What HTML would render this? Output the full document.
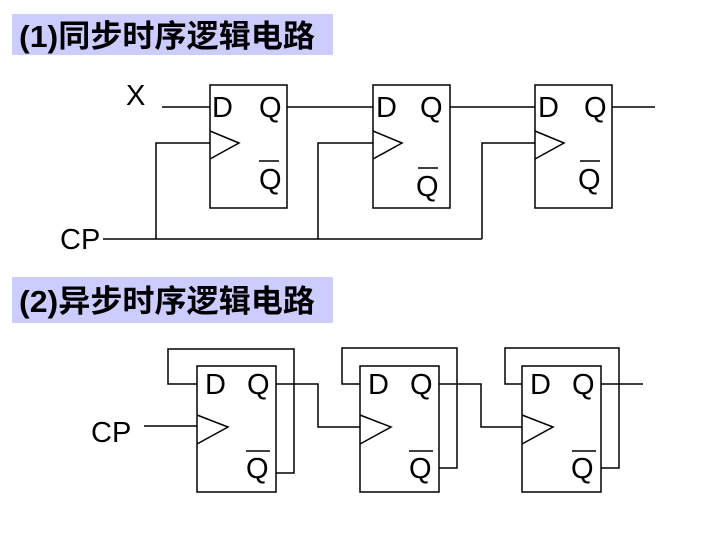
<!DOCTYPE html>
<html><head><meta charset="utf-8"><style>
body{margin:0;background:#fff;}
svg{display:block}
.t{font-family:"Liberation Sans","Noto Sans CJK SC",sans-serif;font-weight:bold;font-size:31px;fill:#000}
.l{font-family:"Liberation Sans",sans-serif;font-size:29px;fill:#000}
</style></head><body>
<svg width="720" height="540" viewBox="0 0 720 540" xmlns="http://www.w3.org/2000/svg">
<rect x="12" y="14" width="321" height="41" fill="#ccccff"/>
<text class="t" x="19" y="47" textLength="296" lengthAdjust="spacingAndGlyphs">(1)同步时序逻辑电路</text>
<rect x="12" y="277" width="321" height="46" fill="#ccccff"/>
<text class="t" x="19" y="312" textLength="296" lengthAdjust="spacingAndGlyphs">(2)异步时序逻辑电路</text>
<g stroke="#000" stroke-width="1.5" fill="none">
<rect x="210" y="85" width="77" height="123"/>
<rect x="373" y="85" width="77" height="123"/>
<rect x="535" y="85" width="77" height="123"/>
<polyline points="210,131 239,143 210,159"/>
<polyline points="373,131 402,143 373,159"/>
<polyline points="535,131 564,143 535,159"/>
<line x1="162" y1="107" x2="210" y2="107"/>
<line x1="287" y1="107" x2="373" y2="107"/>
<line x1="450" y1="107" x2="535" y2="107"/>
<line x1="612" y1="107" x2="655" y2="107"/>
<line x1="103" y1="239" x2="482" y2="239"/>
<polyline points="156,239 156,143 210,143"/>
<polyline points="318,239 318,143 373,143"/>
<polyline points="482,239 482,143 535,143"/>
<line x1="259" y1="161" x2="279" y2="161"/>
<line x1="418" y1="168" x2="438" y2="168"/>
<line x1="580" y1="161" x2="600" y2="161"/>
<rect x="197" y="366" width="79" height="126"/>
<rect x="360" y="366" width="79" height="126"/>
<rect x="522" y="366" width="79" height="126"/>
<polyline points="197,415 228,427 197,444"/>
<polyline points="360,415 391,427 360,444"/>
<polyline points="522,415 553,427 522,444"/>
<line x1="144" y1="426" x2="197" y2="426"/>
<polyline points="197,384 168,384 168,349 294,349 294,473 276,473"/>
<polyline points="360,384 342,384 342,348 457,348 457,468 439,468"/>
<polyline points="522,384 505,384 505,348 619,348 619,468 601,468"/>
<polyline points="276,384 318,384 318,427 360,427"/>
<polyline points="439,384 481,384 481,427 522,427"/>
<line x1="601" y1="384" x2="643" y2="384"/>
<line x1="246" y1="451" x2="270" y2="451"/>
<line x1="409" y1="451" x2="433" y2="451"/>
<line x1="572" y1="451" x2="596" y2="451"/>
</g>
<text class="l" x="126" y="105">X</text>
<text class="l" x="60" y="249">CP</text>
<text class="l" x="212" y="117">D</text><text class="l" x="259" y="117">Q</text><text class="l" x="259" y="189">Q</text>
<text class="l" x="376" y="117">D</text><text class="l" x="420" y="117">Q</text><text class="l" x="416" y="196">Q</text>
<text class="l" x="538" y="117">D</text><text class="l" x="584" y="117">Q</text><text class="l" x="578" y="189">Q</text>
<text class="l" x="91" y="442">CP</text>
<text class="l" x="205" y="394">D</text><text class="l" x="247" y="394">Q</text><text class="l" x="246" y="478">Q</text>
<text class="l" x="368" y="394">D</text><text class="l" x="410" y="394">Q</text><text class="l" x="409" y="478">Q</text>
<text class="l" x="530" y="394">D</text><text class="l" x="572" y="394">Q</text><text class="l" x="571" y="478">Q</text>
</svg>
</body></html>
